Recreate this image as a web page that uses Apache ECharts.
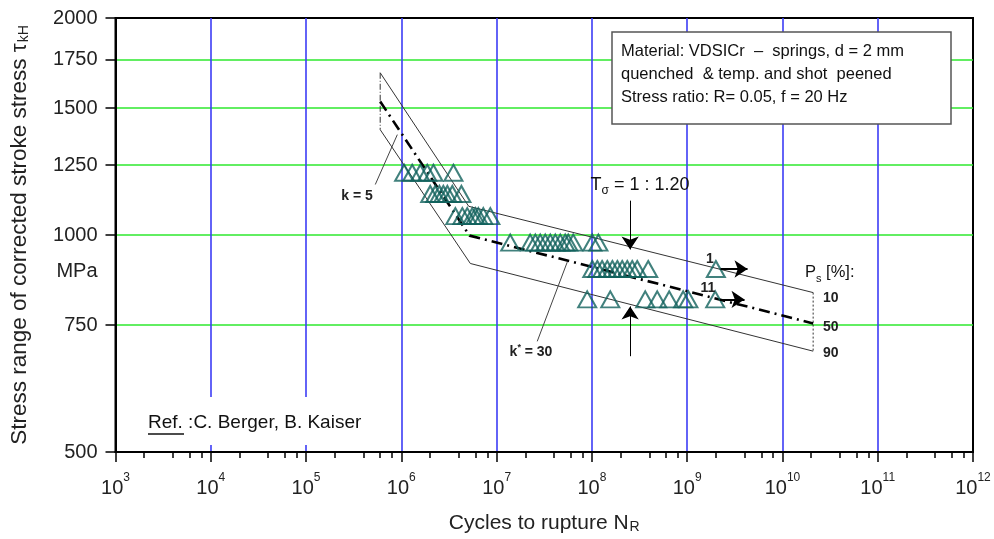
<!DOCTYPE html>
<html><head><meta charset="utf-8">
<script src="https://cdn.jsdelivr.net/npm/echarts@6/dist/echarts.min.js"></script>
<style>html,body{margin:0;padding:0;background:#fff}#c{width:994px;height:539px}</style>
</head><body><div id="c"></div>
<script>
// ---------- data ----------
const xDecadeMin = 3, xDecadeMax = 12;
const minorTickFactors = [2, 4, 6, 8];
const yTickValues = [500, 750, 1000, 1250, 1500, 1750, 2000];
const yUnitLabelPos = 890;

// failures (triangles) per stress level
const stressLevels = [1220, 1140, 1062, 976, 897, 814];
const cyclesLevel1 = [1.07e6, 1.30e6, 1.58e6, 1.87e6, 2.17e6, 3.52e6];
const cyclesLevel2 = [2.01e6, 2.27e6, 2.51e6, 2.76e6, 3.04e6, 3.43e6, 4.27e6];
const cyclesLevel3 = [3.69e6, 4.37e6, 4.92e6, 5.56e6, 5.98e6, 6.43e6, 7.25e6, 8.59e6];
const cyclesLevel4 = [1.39e7, 2.25e7, 2.55e7, 2.87e7, 3.24e7, 3.66e7, 4.13e7, 4.66e7, 5.25e7, 5.65e7, 6.37e7, 1.01e8, 1.17e8];
const cyclesLevel5 = [1.01e8, 1.14e8, 1.28e8, 1.45e8, 1.64e8, 1.85e8, 2.08e8, 2.35e8, 2.65e8, 2.99e8, 3.90e8];
const cyclesLevel6 = [8.93e7, 1.56e8, 3.63e8, 4.85e8, 6.48e8, 9.08e8, 1.03e9];

// run-outs
const runoutCycles = [2.0e9, 1.97e9];
const runoutStress = [897, 814];
const runoutArrowEndCycles = [4.3e9, 4.0e9];
const runoutCounts = ['1', '11'];

// scatter band (P_s = 10 / 50 / 90 %)
const bandCycles = [6.0e5, 5.1e6, 2.1e10];
const upperStress = [1679, 1096, 832];
const medianKneeCycles = 5.2e6;
const medianStress = [1532, 998, 754];
const lowerKneeCycles = 5.3e6;
const lowerStress = [1400, 913, 690];

// T_sigma arrows
const tArrowCycles = 2.52e8;
const tArrowTopStress = [1116, 955];
const tArrowBottomStress = [679, 796];

// leader lines
const k5Leader = { cycles: [5.33e5, 9.08e5], stress: [1175, 1378] };
const k30Leader = { cycles: [2.67e7, 5.51e7], stress: [712, 917] };

// ---------- chart ----------
const L = Math.log10;
const FONT = "'Liberation Sans', Arial, sans-serif";
const chart = echarts.init(document.getElementById('c'), null, { renderer: 'canvas' });

const allRows = [cyclesLevel1, cyclesLevel2, cyclesLevel3, cyclesLevel4, cyclesLevel5, cyclesLevel6];
const triData = [];
allRows.forEach((row, i) => row.forEach(n => triData.push([L(n), L(stressLevels[i])])));
runoutCycles.forEach((n, i) => triData.push([L(n), L(runoutStress[i])]));

const minorTicks = [];
for (let d = xDecadeMin; d < xDecadeMax; d++) minorTickFactors.forEach(f => minorTicks.push(d + L(f)));

const yTickLog = yTickValues.map(v => L(v));
const yLabelLog = yTickLog.concat([L(yUnitLabelPos)]);

const lineStyleThin = { color: '#333', width: 1 };

function seg(c1, s1, c2, s2) { return { coords: [[L(c1), L(s1)], [L(c2), L(s2)]] }; }

const option = {
  animation: false,
  backgroundColor: '#fff',
  grid: { left: 115, right: 21, top: 18, bottom: 86, show: true, borderColor: '#000', borderWidth: 2, backgroundColor: 'transparent' },
  xAxis: [{
    type: 'value', min: xDecadeMin, max: xDecadeMax, interval: 1,
    name: 'Cycles to rupture N{sub|R}', nameLocation: 'middle', nameGap: 60,
    nameTextStyle: { fontFamily: FONT, fontSize: 21, color: '#222', rich: { sub: { fontFamily: FONT, fontSize: 14, color: '#222', verticalAlign: 'bottom', lineHeight: 22, padding: [9, 0, 0, 1] } } },
    axisLine: { lineStyle: { color: '#000', width: 2 } },
    axisTick: { show: true, inside: false, length: 10, lineStyle: { color: '#000', width: 1.5 } },
    axisLabel: {
      margin: 20, fontFamily: FONT, color: '#222',
      formatter: v => '{b|10}{s|' + Math.round(v) + '}',
      rich: { b: { fontFamily: FONT, fontSize: 20, color: '#222', lineHeight: 26, verticalAlign: 'bottom' },
              s: { fontFamily: FONT, fontSize: 12, color: '#222', lineHeight: 26, verticalAlign: 'top' } }
    },
    splitLine: { show: true, showMinLine: false, showMaxLine: false, lineStyle: { color: '#3d3df5', width: 1.6 } }
  }, {
    type: 'value', min: xDecadeMin, max: xDecadeMax, position: 'bottom',
    axisLine: { show: false }, axisLabel: { show: false }, splitLine: { show: false },
    axisTick: { show: true, inside: false, length: 6, customValues: minorTicks, lineStyle: { color: '#000', width: 1.5 } }
  }],
  yAxis: {
    type: 'value', min: L(500), max: L(2000),
    name: 'Stress range of corrected stroke stress τ{sub|kH}', nameLocation: 'middle', nameGap: 84, nameRotate: 90,
    nameTextStyle: { fontFamily: FONT, fontSize: 22.5, color: '#222', rich: { sub: { fontFamily: FONT, fontSize: 14, color: '#222', verticalAlign: 'bottom', lineHeight: 24, padding: [9, 0, 0, 1] } } },
    axisLine: { lineStyle: { color: '#000', width: 2 } },
    axisTick: { show: true, inside: false, length: 10, customValues: yTickLog, lineStyle: { color: '#000', width: 1.5 } },
    axisLabel: {
      customValues: yLabelLog, margin: 18, fontFamily: FONT, fontSize: 20, color: '#222',
      formatter: v => {
        const n = Math.round(Math.pow(10, v));
        return yTickValues.indexOf(n) >= 0 ? String(n) : 'MPa';
      }
    },
    splitLine: { show: true, showMinLine: false, showMaxLine: false, lineStyle: { color: '#2ee82e', width: 1.6 } }
  },
  series: [
    { type: 'line', silent: true, symbol: 'none', z: 3,
      data: bandCycles.map((c, i) => [L(c), L(upperStress[i])]), lineStyle: lineStyleThin },
    { type: 'line', silent: true, symbol: 'none', z: 3,
      data: [[L(bandCycles[0]), L(lowerStress[0])], [L(lowerKneeCycles), L(lowerStress[1])], [L(bandCycles[2]), L(lowerStress[2])]], lineStyle: lineStyleThin },
    { type: 'line', silent: true, symbol: 'none', z: 4,
      data: [[L(bandCycles[0]), L(medianStress[0])], [L(medianKneeCycles), L(medianStress[1])], [L(bandCycles[2]), L(medianStress[2])]],
      lineStyle: { color: '#000', width: 2.6, type: [11, 5, 2, 5] } },
    { type: 'line', silent: true, symbol: 'none', z: 3,
      data: [[L(bandCycles[0]), L(upperStress[0])], [L(bandCycles[0]), L(lowerStress[0])]],
      lineStyle: { color: '#333', width: 1, type: [6, 2, 1, 2] } },
    { type: 'line', silent: true, symbol: 'none', z: 3,
      data: [[L(bandCycles[2]), L(upperStress[2])], [L(bandCycles[2]), L(lowerStress[2])]],
      lineStyle: { color: '#333', width: 1, type: [2, 2] } },
    { type: 'scatter', silent: true, z: 5, data: triData, symbol: 'triangle', symbolSize: [18, 16],
      itemStyle: { color: 'rgba(0,0,0,0)', borderColor: '#11615c', borderWidth: 2 } },
    { type: 'lines', coordinateSystem: 'cartesian2d', silent: true, z: 6,
      symbol: ['none', 'arrow'], symbolSize: [9, 13],
      lineStyle: { color: '#000', width: 1, opacity: 1, curveness: 0 },
      data: [seg(tArrowCycles, tArrowTopStress[0], tArrowCycles, tArrowTopStress[1]),
             seg(tArrowCycles, tArrowBottomStress[0], tArrowCycles, tArrowBottomStress[1])] },
    { type: 'lines', coordinateSystem: 'cartesian2d', silent: true, z: 6,
      symbol: ['none', 'arrow'], symbolSize: [9, 13],
      lineStyle: { color: '#000', width: 2, opacity: 1, curveness: 0 },
      data: runoutCycles.map((c, i) => seg(c * 1.12, runoutStress[i], runoutArrowEndCycles[i], runoutStress[i])) },
    { type: 'lines', coordinateSystem: 'cartesian2d', silent: true, z: 6, symbol: 'none',
      lineStyle: { color: '#444', width: 1, opacity: 1, curveness: 0 },
      data: [seg(k5Leader.cycles[0], k5Leader.stress[0], k5Leader.cycles[1], k5Leader.stress[1]),
             seg(k30Leader.cycles[0], k30Leader.stress[0], k30Leader.cycles[1], k30Leader.stress[1])] }
  ],
  graphic: [
    { type: 'rect', z: 100, shape: { x: 612, y: 32, width: 339, height: 92 }, style: { fill: '#fff', stroke: '#555', lineWidth: 1.5 } },
    { type: 'text', z: 101, x: 621, y: 51, style: { text: 'Material: VDSICr  –  springs, d = 2 mm', font: '16.5px ' + FONT, fill: '#111', verticalAlign: 'middle' } },
    { type: 'text', z: 101, x: 621, y: 74.5, style: { text: 'quenched  & temp. and shot  peened', font: '16.5px ' + FONT, fill: '#111', verticalAlign: 'middle' } },
    { type: 'text', z: 101, x: 621, y: 97.5, style: { text: 'Stress ratio: R= 0.05, f = 20 Hz', font: '16.5px ' + FONT, fill: '#111', verticalAlign: 'middle' } },
    { type: 'rect', z: 100, shape: { x: 140, y: 397, width: 240, height: 48 }, style: { fill: '#fff' } },
    { type: 'text', z: 101, x: 148, y: 423, style: { text: 'Ref. :C. Berger, B. Kaiser', font: '19px ' + FONT, fill: '#111', verticalAlign: 'middle' } },
    { type: 'line', z: 101, shape: { x1: 148, y1: 434, x2: 184, y2: 434 }, style: { stroke: '#111', lineWidth: 1.4 } },
    { type: 'text', z: 101, x: 357, y: 196, style: { text: 'k = 5', font: 'bold 14px ' + FONT, fill: '#222', align: 'center', verticalAlign: 'middle' } },
    { type: 'text', z: 101, x: 531, y: 352, style: { text: 'k{sup|*} = 30', font: 'bold 14px ' + FONT, fill: '#222', align: 'center', verticalAlign: 'middle',
        rich: { sup: { font: 'bold 9px ' + FONT, fill: '#222', verticalAlign: 'top', lineHeight: 18 } } } },
    { type: 'text', z: 101, x: 640, y: 185, style: { text: 'T{sub|σ} = 1 : 1.20', font: '18px ' + FONT, fill: '#111', align: 'center', verticalAlign: 'middle',
        rich: { sub: { font: '12px ' + FONT, fill: '#111', verticalAlign: 'bottom', lineHeight: 24 } } } },
    { type: 'text', z: 101, x: 710, y: 259, style: { text: runoutCounts[0], font: 'bold 14px ' + FONT, fill: '#222', align: 'center', verticalAlign: 'middle' } },
    { type: 'text', z: 101, x: 708, y: 288, style: { text: runoutCounts[1], font: 'bold 14px ' + FONT, fill: '#222', align: 'center', verticalAlign: 'middle' } },
    { type: 'text', z: 101, x: 805, y: 272, style: { text: 'P{sub|s} [%]:', font: '16.5px ' + FONT, fill: '#111', verticalAlign: 'middle',
        rich: { sub: { font: '11px ' + FONT, fill: '#111', verticalAlign: 'bottom', lineHeight: 24 } } } },
    { type: 'text', z: 101, x: 823, y: 298, style: { text: '10', font: 'bold 14px ' + FONT, fill: '#222', verticalAlign: 'middle' } },
    { type: 'text', z: 101, x: 823, y: 327, style: { text: '50', font: 'bold 14px ' + FONT, fill: '#222', verticalAlign: 'middle' } },
    { type: 'text', z: 101, x: 823, y: 353, style: { text: '90', font: 'bold 14px ' + FONT, fill: '#222', verticalAlign: 'middle' } }
  ]
};
chart.setOption(option);
</script>
</body></html>
